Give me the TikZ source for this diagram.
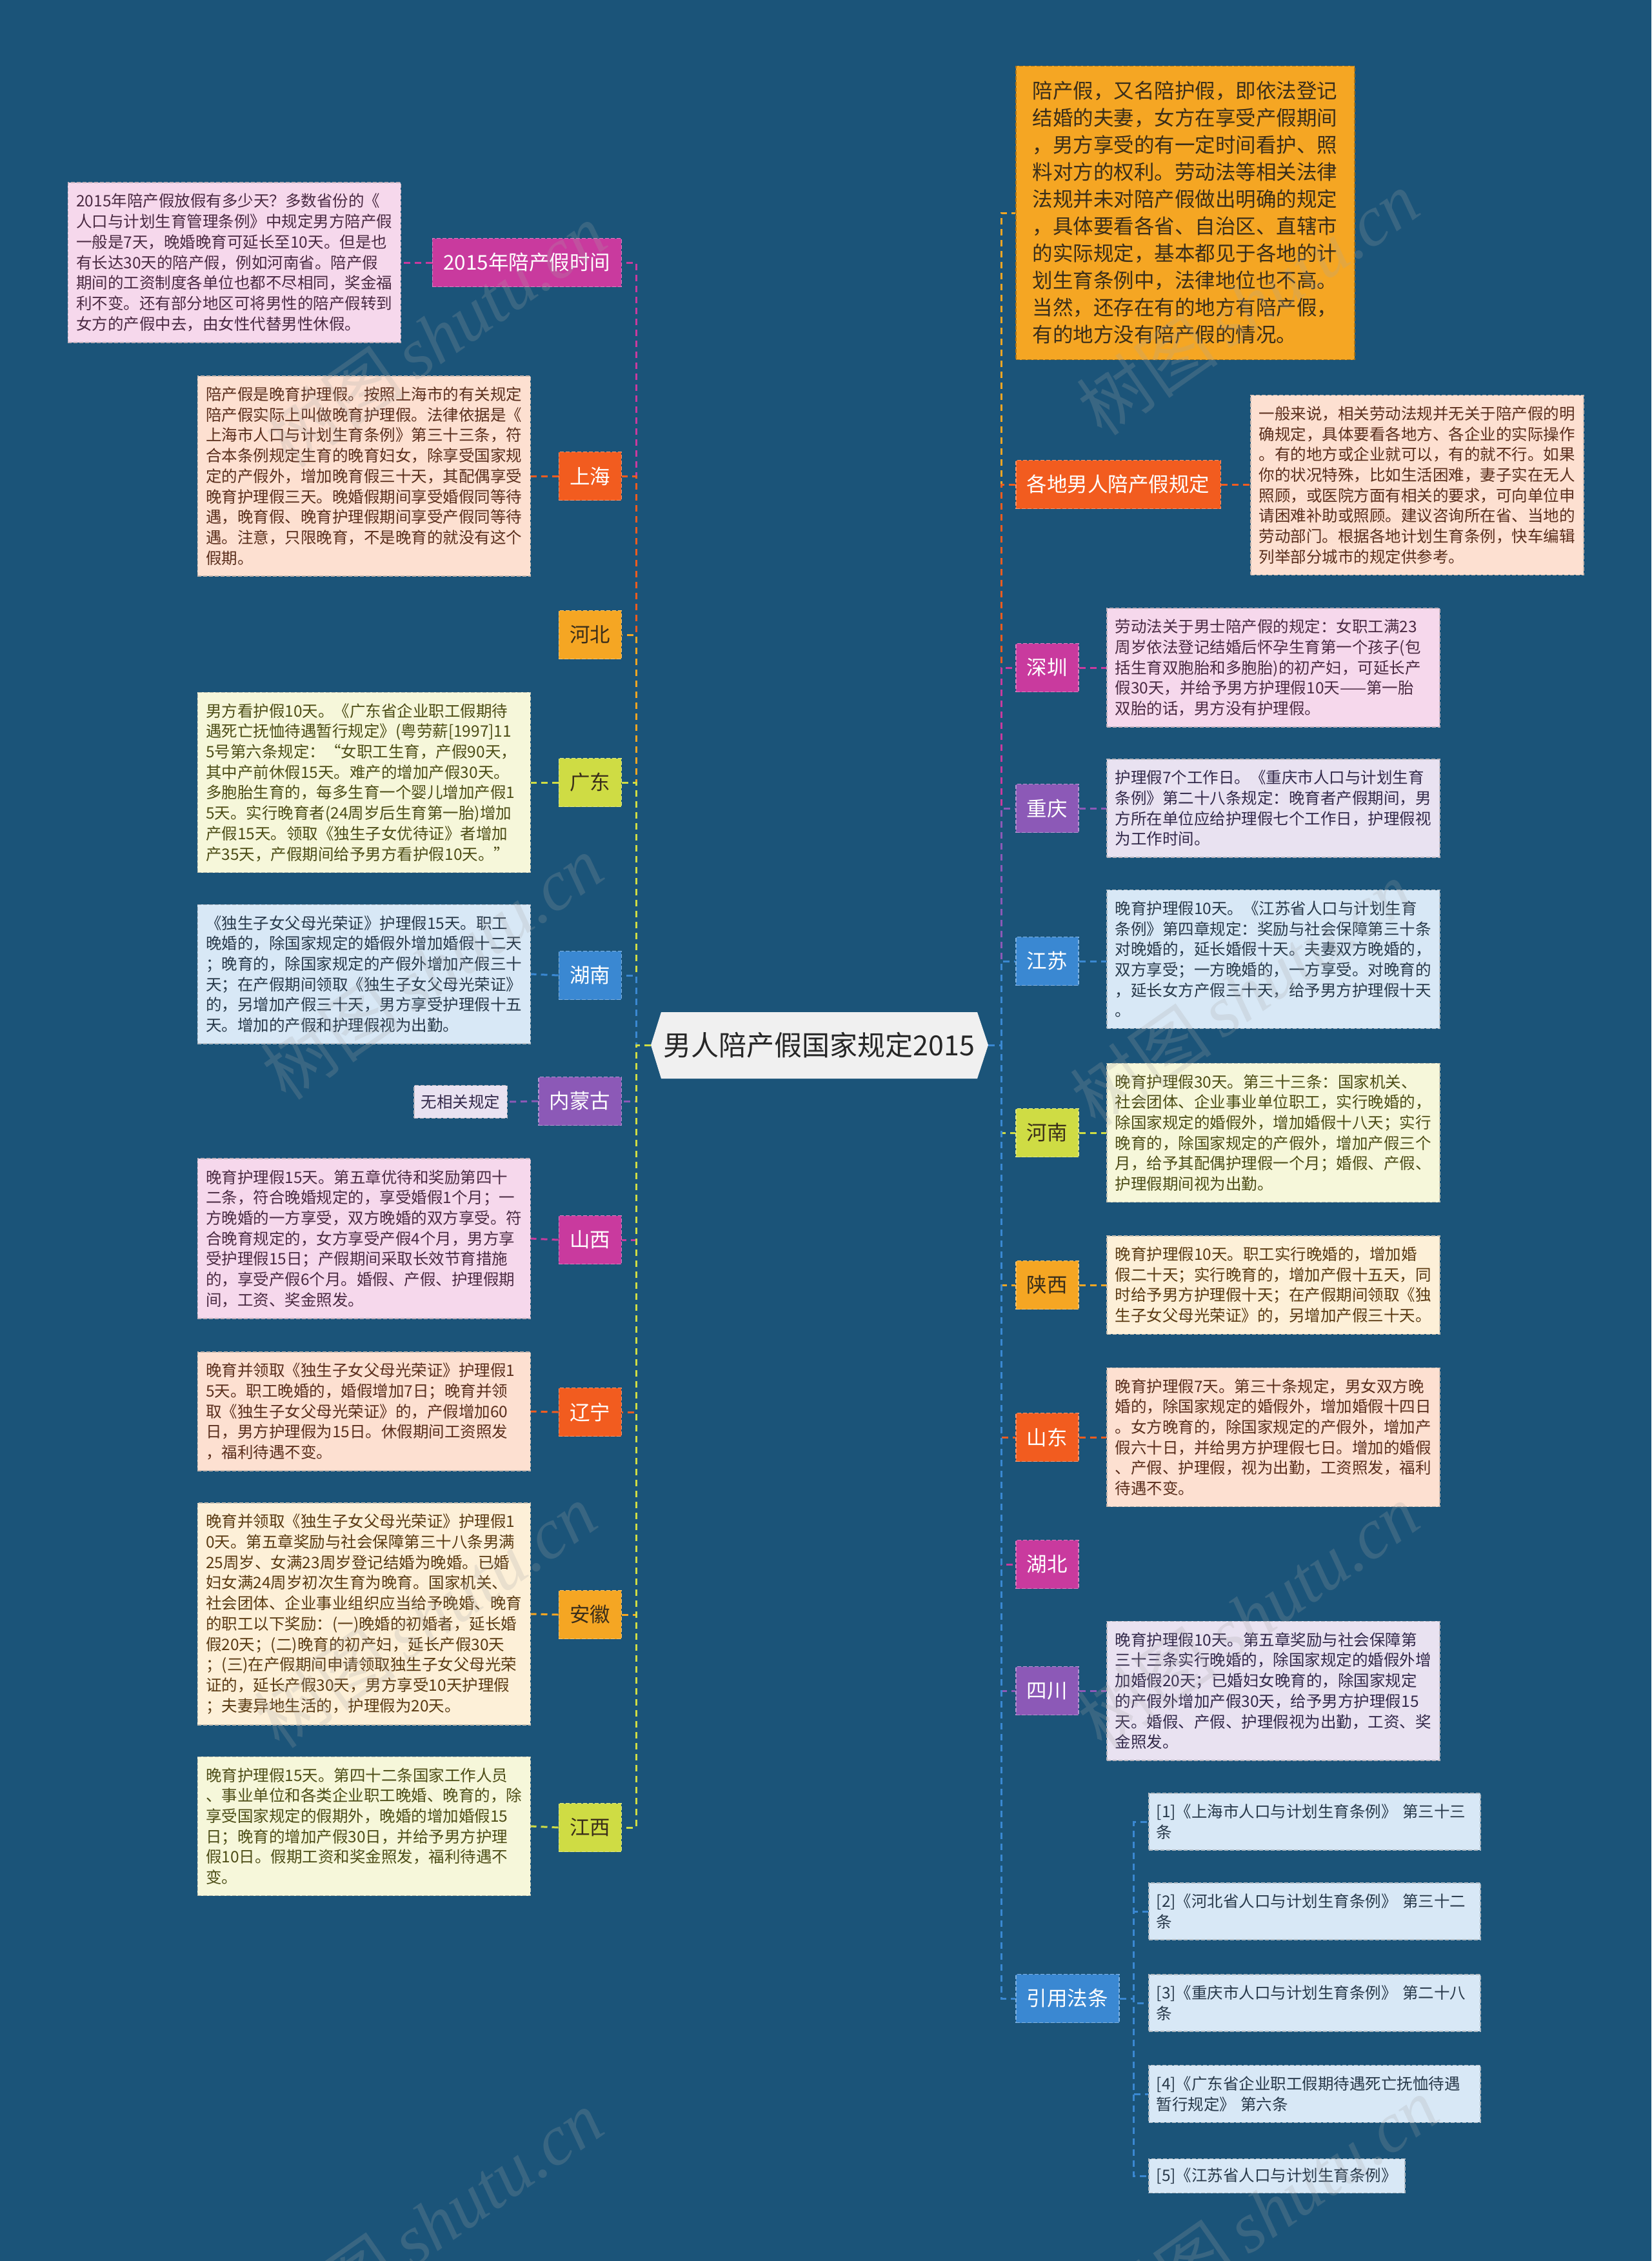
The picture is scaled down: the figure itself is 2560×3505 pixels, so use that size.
\documentclass[tikz,border=0pt]{standalone}
\usepackage{fontspec}
\setmainfont{Noto Sans CJK SC}
\newfontfamily\wmlatin{Liberation Serif}
\usetikzlibrary{calc}
\definecolor{bg}{HTML}{1B5479}
\definecolor{cMag}{HTML}{C93A9E}
\definecolor{cRed}{HTML}{F25C1F}
\definecolor{cOra}{HTML}{F5A623}
\definecolor{cYel}{HTML}{CFDC44}
\definecolor{cBlu}{HTML}{3A88D2}
\definecolor{cPur}{HTML}{8C59B7}
\definecolor{fMag}{HTML}{F6D8EC}
\definecolor{fRed}{HTML}{FDE0D1}
\definecolor{fOra}{HTML}{FDF0D8}
\definecolor{fYel}{HTML}{F6F7DA}
\definecolor{fBlu}{HTML}{D8E8F6}
\definecolor{fPur}{HTML}{E9E2F1}
\definecolor{tMag}{HTML}{4A2A42}
\definecolor{tRed}{HTML}{5A2E1C}
\definecolor{tOra}{HTML}{5A3A12}
\definecolor{tYel}{HTML}{4D4D16}
\definecolor{tBlu}{HTML}{28394A}
\definecolor{tPur}{HTML}{33294A}
\definecolor{tDark}{HTML}{3A2E1A}
\definecolor{rootfill}{HTML}{F0F0F0}
\pgfdeclarelayer{bgl}
\pgfsetlayers{bgl,main}
\begin{document}
\begin{tikzpicture}[x=1pt,y=-1pt,
  lbl/.style 2 args={fill=#1, draw=#1!65!white, line width=1.5pt, dash pattern=on 6pt off 3pt,
    text=#2, font=\fontsize{31.5}{38}\selectfont, inner xsep=17pt, inner ysep=0pt, minimum height=75pt},
  det/.style 2 args={fill=#1, draw=#1!55!gray, line width=1.5pt, dash pattern=on 6pt off 3pt,
    text=#2, font=\fontsize{24.5}{31.7}\selectfont, text width=490pt, align=left,
    inner xsep=13pt, inner ysep=17pt},
  smalldet/.style 2 args={fill=#1, draw=#1!55!gray, line width=1.5pt, dash pattern=on 6pt off 3pt,
    text=#2, font=\fontsize{24.5}{31.7}\selectfont, inner xsep=11pt, inner ysep=14pt},
  bigdet/.style={fill=cOra, draw=cOra!70!black, line width=1.5pt, dash pattern=on 6pt off 3pt,
    text=tDark, font=\fontsize{31.5}{42}\selectfont, text width=473pt, align=left,
    inner xsep=26pt, inner ysep=24pt},
  conn/.style={draw=#1, line width=3pt, dash pattern=on 10pt off 7pt},
  wm/.style={text=gray!70, opacity=0.22, rotate=35, inner sep=0pt}
]
\useasboundingbox (0,0) rectangle (2560,3505);
\begin{pgfonlayer}{bgl}
\fill[bg] (0,0) rectangle (2560,3505);
\end{pgfonlayer}

% root
\fill[rootfill] (1009,1620) -- (1025,1569) -- (1515,1569) -- (1532,1620) -- (1515,1672) -- (1025,1672) -- cycle;
\node[text=black!85, font=\fontsize{43}{50}\selectfont] (root) at (1270,1620) {男人陪产假国家规定2015};
\coordinate (rootL) at (1009,1620);
\coordinate (rootR) at (1532,1620);
\coordinate (trunkL) at (986,1620);
\coordinate (trunkR) at (1552,1620);

% ---------- left labels ----------
\node[lbl={cMag}{white}, anchor=east] (L1) at (964,407) {2015年陪产假时间};
\node[lbl={cRed}{white}, anchor=east] (L2) at (964,738) {上海};
\node[lbl={cOra}{tDark}, anchor=east] (L3) at (964,984) {河北};
\node[lbl={cYel}{tDark}, anchor=east] (L4) at (964,1213) {广东};
\node[lbl={cBlu}{white}, anchor=east] (L5) at (964,1512) {湖南};
\node[lbl={cPur}{white}, anchor=east] (L6) at (964,1707) {内蒙古};
\node[lbl={cMag}{white}, anchor=east] (L7) at (964,1922) {山西};
\node[lbl={cRed}{white}, anchor=east] (L8) at (964,2189) {辽宁};
\node[lbl={cOra}{tDark}, anchor=east] (L9) at (964,2503) {安徽};
\node[lbl={cYel}{tDark}, anchor=east] (L10) at (964,2833) {江西};

% ---------- left details ----------
\node[det={fMag}{tMag}, anchor=east] (D1) at (622,407) {2015年陪产假放假有多少天？多数省份的《\\人口与计划生育管理条例》中规定男方陪产假\\一般是7天，晚婚晚育可延长至10天。但是也\\有长达30天的陪产假，例如河南省。陪产假\\期间的工资制度各单位也都不尽相同，奖金福\\利不变。还有部分地区可将男性的陪产假转到\\女方的产假中去，由女性代替男性休假。};
\node[det={fRed}{tRed}, anchor=east] (D2) at (823,738) {陪产假是晚育护理假。按照上海市的有关规定\\陪产假实际上叫做晚育护理假。法律依据是《\\上海市人口与计划生育条例》第三十三条，符\\合本条例规定生育的晚育妇女，除享受国家规\\定的产假外，增加晚育假三十天，其配偶享受\\晚育护理假三天。晚婚假期间享受婚假同等待\\遇，晚育假、晚育护理假期间享受产假同等待\\遇。注意，只限晚育，不是晚育的就没有这个\\假期。};
\node[det={fYel}{tYel}, anchor=east] (D4) at (823,1213) {男方看护假10天。《广东省企业职工假期待\\遇死亡抚恤待遇暂行规定》(粤劳薪[1997]11\\5号第六条规定：“女职工生育，产假90天，\\其中产前休假15天。难产的增加产假30天。\\多胞胎生育的，每多生育一个婴儿增加产假1\\5天。实行晚育者(24周岁后生育第一胎)增加\\产假15天。领取《独生子女优待证》者增加\\产35天，产假期间给予男方看护假10天。”};
\node[det={fBlu}{tBlu}, anchor=east] (D5) at (823,1510) {《独生子女父母光荣证》护理假15天。职工\\晚婚的，除国家规定的婚假外增加婚假十二天\\；晚育的，除国家规定的产假外增加产假三十\\天；在产假期间领取《独生子女父母光荣证》\\的，另增加产假三十天，男方享受护理假十五\\天。增加的产假和护理假视为出勤。};
\node[smalldet={fPur}{tPur}, anchor=east] (D6) at (787,1708) {无相关规定};
\node[det={fMag}{tMag}, anchor=east] (D7) at (823,1920) {晚育护理假15天。第五章优待和奖励第四十\\二条，符合晚婚规定的，享受婚假1个月；一\\方晚婚的一方享受，双方晚婚的双方享受。符\\合晚育规定的，女方享受产假4个月，男方享\\受护理假15日；产假期间采取长效节育措施\\的，享受产假6个月。婚假、产假、护理假期\\间，工资、奖金照发。};
\node[det={fRed}{tRed}, anchor=east] (D8) at (823,2188) {晚育并领取《独生子女父母光荣证》护理假1\\5天。职工晚婚的，婚假增加7日；晚育并领\\取《独生子女父母光荣证》的，产假增加60\\日，男方护理假为15日。休假期间工资照发\\，福利待遇不变。};
\node[det={fOra}{tOra}, anchor=east] (D9) at (823,2502) {晚育并领取《独生子女父母光荣证》护理假1\\0天。第五章奖励与社会保障第三十八条男满\\25周岁、女满23周岁登记结婚为晚婚。已婚\\妇女满24周岁初次生育为晚育。国家机关、\\社会团体、企业事业组织应当给予晚婚、晚育\\的职工以下奖励：(一)晚婚的初婚者，延长婚\\假20天；(二)晚育的初产妇，延长产假30天\\；(三)在产假期间申请领取独生子女父母光荣\\证的，延长产假30天，男方享受10天护理假\\；夫妻异地生活的，护理假为20天。};
\node[det={fYel}{tYel}, anchor=east] (D10) at (823,2831) {晚育护理假15天。第四十二条国家工作人员\\、事业单位和各类企业职工晚婚、晚育的，除\\享受国家规定的假期外，晚婚的增加婚假15\\日；晚育的增加产假30日，并给予男方护理\\假10日。假期工资和奖金照发，福利待遇不\\变。};

% ---------- right ----------
\node[bigdet, anchor=west] (R0) at (1574,330) {陪产假，又名陪护假，即依法登记\\结婚的夫妻，女方在享受产假期间\\，男方享受的有一定时间看护、照\\料对方的权利。劳动法等相关法律\\法规并未对陪产假做出明确的规定\\，具体要看各省、自治区、直辖市\\的实际规定，基本都见于各地的计\\划生育条例中，法律地位也不高。\\当然，还存在有的地方有陪产假，\\有的地方没有陪产假的情况。};
\node[lbl={cRed}{white}, anchor=west] (R1) at (1574,751) {各地男人陪产假规定};
\node[lbl={cMag}{white}, anchor=west] (R2) at (1574,1035) {深圳};
\node[lbl={cPur}{white}, anchor=west] (R3) at (1574,1253) {重庆};
\node[lbl={cBlu}{white}, anchor=west] (R4) at (1574,1490) {江苏};
\node[lbl={cYel}{tDark}, anchor=west] (R5) at (1574,1756) {河南};
\node[lbl={cOra}{tDark}, anchor=west] (R6) at (1574,1992) {陕西};
\node[lbl={cRed}{white}, anchor=west] (R7) at (1574,2228) {山东};
\node[lbl={cMag}{white}, anchor=west] (R8) at (1574,2425) {湖北};
\node[lbl={cPur}{white}, anchor=west] (R9) at (1574,2621) {四川};
\node[lbl={cBlu}{white}, anchor=west] (R10) at (1574,3098) {引用法条};

\node[det={fRed}{tRed}, anchor=west] (E1) at (1938,752) {一般来说，相关劳动法规并无关于陪产假的明\\确规定，具体要看各地方、各企业的实际操作\\。有的地方或企业就可以，有的就不行。如果\\你的状况特殊，比如生活困难，妻子实在无人\\照顾，或医院方面有相关的要求，可向单位申\\请困难补助或照顾。建议咨询所在省、当地的\\劳动部门。根据各地计划生育条例，快车编辑\\列举部分城市的规定供参考。};
\node[det={fMag}{tMag}, anchor=west] (E2) at (1715,1035) {劳动法关于男士陪产假的规定：女职工满23\\周岁依法登记结婚后怀孕生育第一个孩子(包\\括生育双胞胎和多胞胎)的初产妇，可延长产\\假30天，并给予男方护理假10天——第一胎\\双胎的话，男方没有护理假。};
\node[det={fPur}{tPur}, anchor=west] (E3) at (1715,1253) {护理假7个工作日。《重庆市人口与计划生育\\条例》第二十八条规定：晚育者产假期间，男\\方所在单位应给护理假七个工作日，护理假视\\为工作时间。};
\node[det={fBlu}{tBlu}, anchor=west] (E4) at (1715,1487) {晚育护理假10天。《江苏省人口与计划生育\\条例》第四章规定：奖励与社会保障第三十条\\对晚婚的，延长婚假十天。夫妻双方晚婚的，\\双方享受；一方晚婚的，一方享受。对晚育的\\，延长女方产假三十天，给予男方护理假十天\\。};
\node[det={fYel}{tYel}, anchor=west] (E5) at (1715,1756) {晚育护理假30天。第三十三条：国家机关、\\社会团体、企业事业单位职工，实行晚婚的，\\除国家规定的婚假外，增加婚假十八天；实行\\晚育的，除国家规定的产假外，增加产假三个\\月，给予其配偶护理假一个月；婚假、产假、\\护理假期间视为出勤。};
\node[det={fOra}{tOra}, anchor=west] (E6) at (1715,1992) {晚育护理假10天。职工实行晚婚的，增加婚\\假二十天；实行晚育的，增加产假十五天，同\\时给予男方护理假十天；在产假期间领取《独\\生子女父母光荣证》的，另增加产假三十天。};
\node[det={fRed}{tRed}, anchor=west] (E7) at (1715,2228) {晚育护理假7天。第三十条规定，男女双方晚\\婚的，除国家规定的婚假外，增加婚假十四日\\。女方晚育的，除国家规定的产假外，增加产\\假六十日，并给男方护理假七日。增加的婚假\\、产假、护理假，视为出勤，工资照发，福利\\待遇不变。};
\node[det={fPur}{tPur}, anchor=west] (E9) at (1715,2621) {晚育护理假10天。第五章奖励与社会保障第\\三十三条实行晚婚的，除国家规定的婚假外增\\加婚假20天；已婚妇女晚育的，除国家规定\\的产假外增加产假30天，给予男方护理假15\\天。婚假、产假、护理假视为出勤，工资、奖\\金照发。};

\coordinate (subT) at (1757,3098);
\node[det={fBlu}{tBlu}, text width=490pt, inner xsep=12pt, anchor=west] (F1) at (1780,2824) {[1]《上海市人口与计划生育条例》~第三十三\\条};
\node[det={fBlu}{tBlu}, text width=490pt, inner xsep=12pt, anchor=west] (F2) at (1780,2963) {[2]《河北省人口与计划生育条例》~第三十二\\条};
\node[det={fBlu}{tBlu}, text width=490pt, inner xsep=12pt, anchor=west] (F3) at (1780,3105) {[3]《重庆市人口与计划生育条例》~第二十八\\条};
\node[det={fBlu}{tBlu}, text width=490pt, inner xsep=12pt, anchor=west] (F4) at (1780,3246) {[4]《广东省企业职工假期待遇死亡抚恤待遇\\暂行规定》~第六条};
\node[smalldet={fBlu}{tBlu}, inner xsep=12pt, anchor=west] (F5) at (1780,3373) {[5]《江苏省人口与计划生育条例》};

% ---------- connectors ----------
\begin{pgfonlayer}{bgl}
\draw[conn=cMag] (rootL) -- (trunkL) |- (L1.east);
\draw[conn=cRed] (rootL) -- (trunkL) |- (L2.east);
\draw[conn=cOra] (rootL) -- (trunkL) |- (L3.east);
\draw[conn=cYel] (rootL) -- (trunkL) |- (L4.east);
\draw[conn=cBlu] (rootL) -- (trunkL) |- (L5.east);
\draw[conn=cPur] (rootL) -- (trunkL) |- (L6.east);
\draw[conn=cMag] (rootL) -- (trunkL) |- (L7.east);
\draw[conn=cRed] (rootL) -- (trunkL) |- (L8.east);
\draw[conn=cOra] (rootL) -- (trunkL) |- (L9.east);
\draw[conn=cYel] (rootL) -- (trunkL) |- (L10.east);
\draw[conn=cMag] (L1.west) -- (D1.east);
\draw[conn=cRed] (L2.west) -- (D2.east);
\draw[conn=cYel] (L4.west) -- (D4.east);
\draw[conn=cBlu] (L5.west) -- (D5.east);
\draw[conn=cPur] (L6.west) -- (D6.east);
\draw[conn=cMag] (L7.west) -- (D7.east);
\draw[conn=cRed] (L8.west) -- (D8.east);
\draw[conn=cOra] (L9.west) -- (D9.east);
\draw[conn=cYel] (L10.west) -- (D10.east);

\draw[conn=cOra] (rootR) -- (trunkR) |- (R0.west);
\draw[conn=cRed] (rootR) -- (trunkR) |- (R1.west);
\draw[conn=cMag] (rootR) -- (trunkR) |- (R2.west);
\draw[conn=cPur] (rootR) -- (trunkR) |- (R3.west);
\draw[conn=cBlu] (rootR) -- (trunkR) |- (R4.west);
\draw[conn=cYel] (rootR) -- (trunkR) |- (R5.west);
\draw[conn=cOra] (rootR) -- (trunkR) |- (R6.west);
\draw[conn=cRed] (rootR) -- (trunkR) |- (R7.west);
\draw[conn=cMag] (rootR) -- (trunkR) |- (R8.west);
\draw[conn=cPur] (rootR) -- (trunkR) |- (R9.west);
\draw[conn=cBlu] (rootR) -- (trunkR) |- (R10.west);
\draw[conn=cRed] (R1.east) -- (R1.east -| E1.west);
\draw[conn=cMag] (R2.east) -- (E2.west);
\draw[conn=cPur] (R3.east) -- (E3.west);
\draw[conn=cBlu] (R4.east) -- (R4.east -| E4.west);
\draw[conn=cYel] (R5.east) -- (E5.west);
\draw[conn=cOra] (R6.east) -- (E6.west);
\draw[conn=cRed] (R7.east) -- (E7.west);
\draw[conn=cPur] (R9.east) -- (E9.west);
\draw[conn=cBlu] (R10.east) -- (subT) |- (F1.west);
\draw[conn=cBlu] (R10.east) -- (subT) |- (F2.west);
\draw[conn=cBlu] (R10.east) -- (subT) |- (F3.west);
\draw[conn=cBlu] (R10.east) -- (subT) |- (F4.west);
\draw[conn=cBlu] (R10.east) -- (subT) |- (F5.west);
\end{pgfonlayer}

% ---------- watermarks ----------
\foreach \wx/\wy [count=\i] in {675/520, 1935/470, 670/1500, 1925/1540, 660/2505, 1935/2505, 670/3445, 1965/3425}{
  \node[wm] (wm\i) at (\wx,\wy) {\fontsize{110}{120}\selectfont 树图\,{\wmlatin\itshape shutu.cn}};
}
\end{tikzpicture}
\end{document}
